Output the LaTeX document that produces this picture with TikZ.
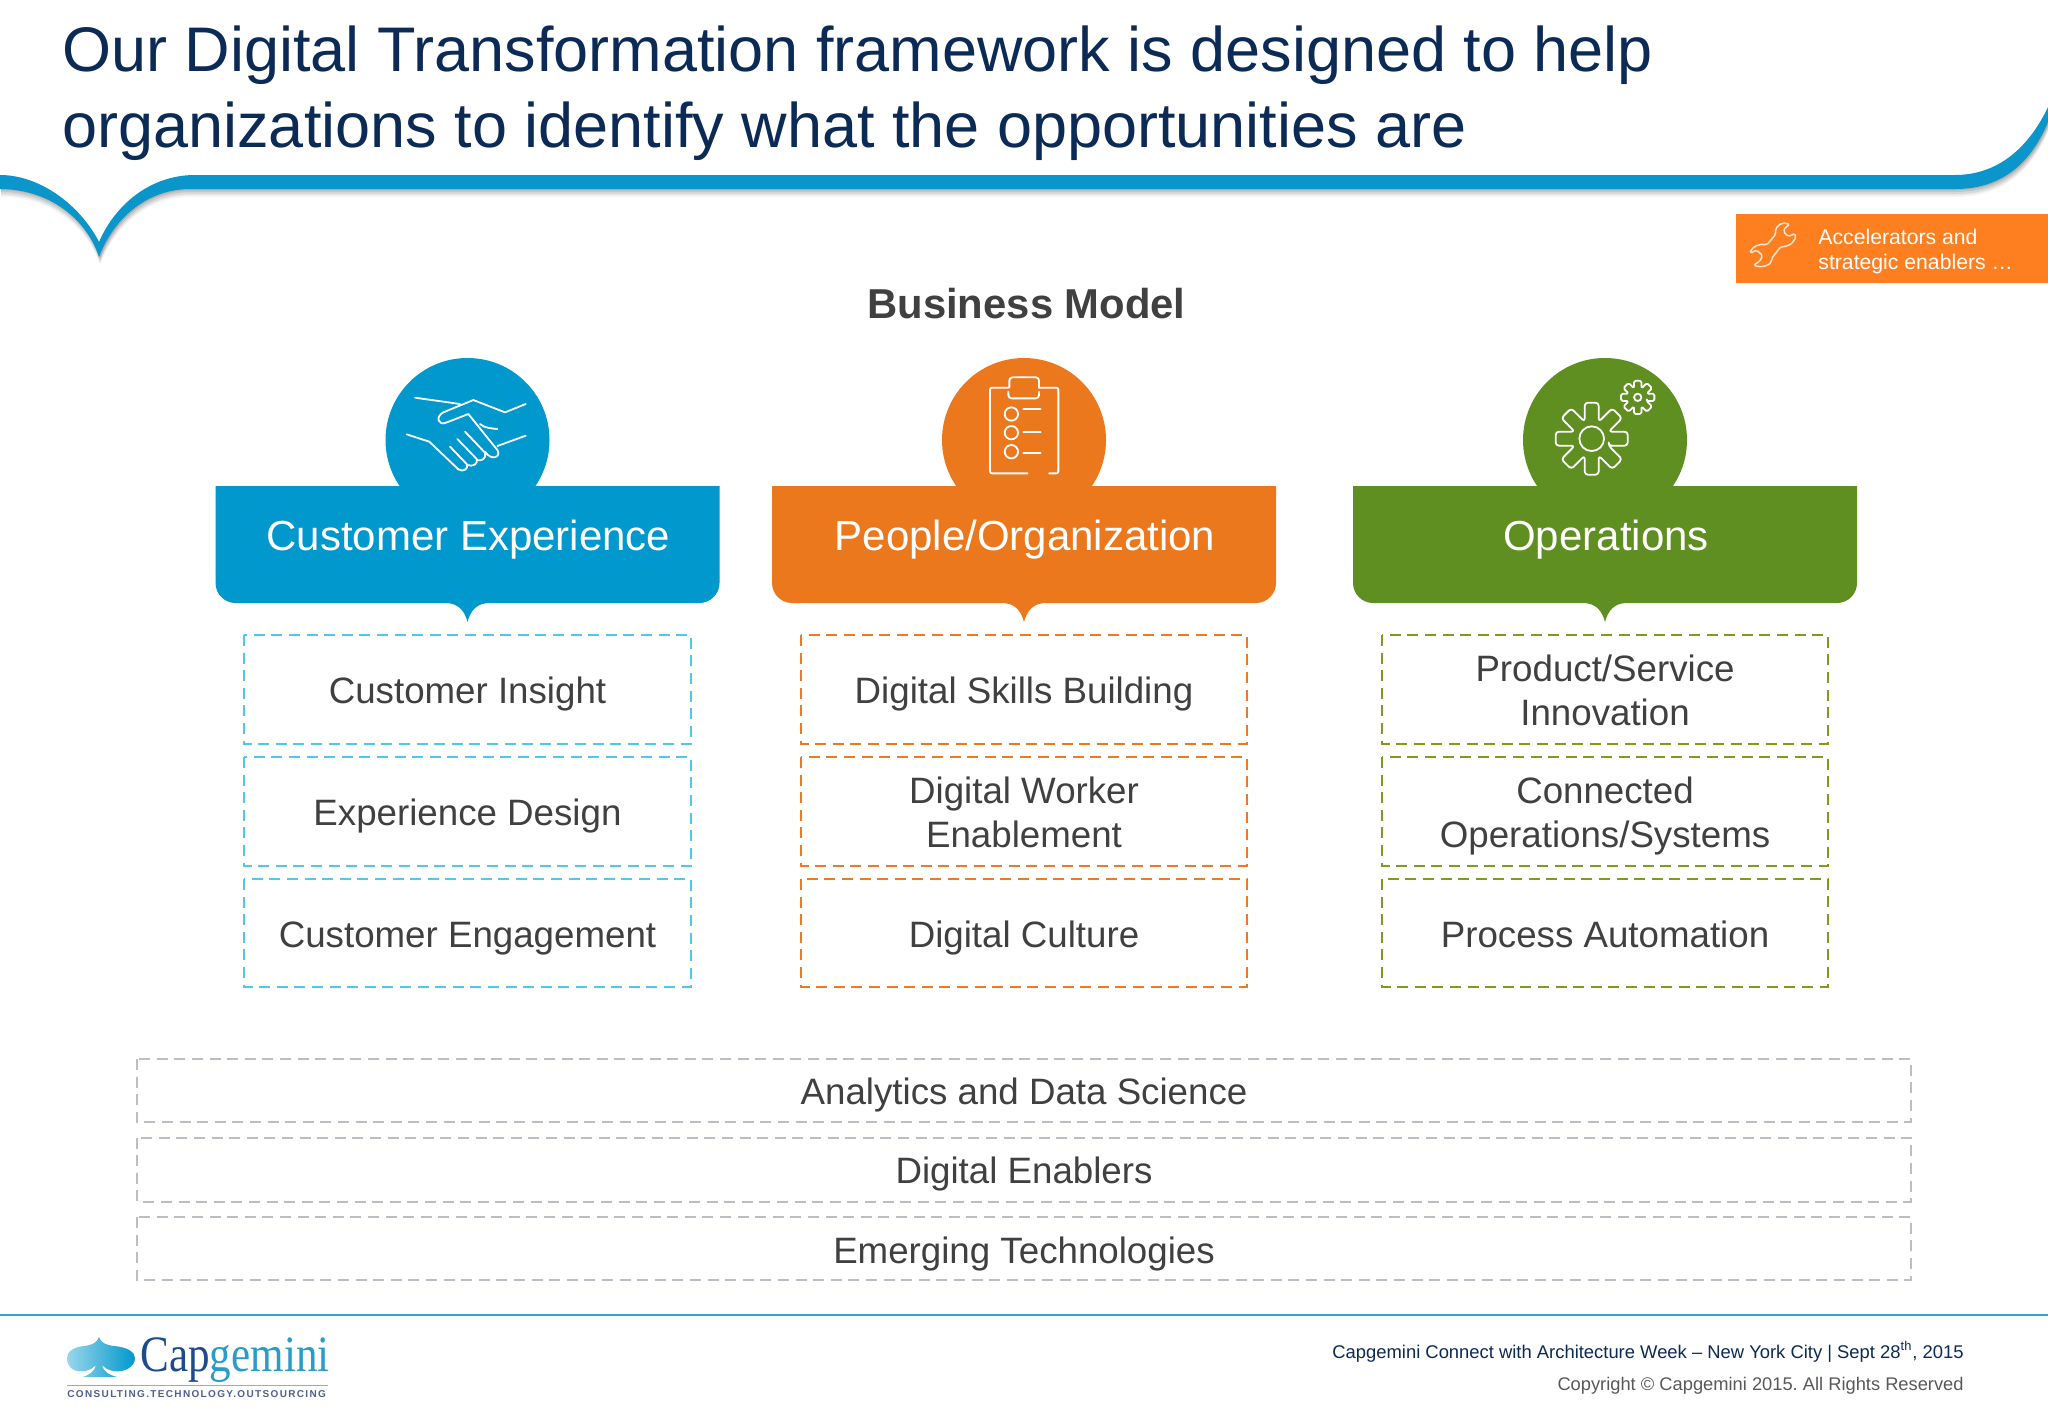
\documentclass[tikz,border=0pt]{standalone}
\usepackage{fontspec}
\usepackage{graphicx}
\setmainfont{Liberation Sans}
\newfontfamily\logoserif{Liberation Serif}
\frenchspacing
\definecolor{navy}{HTML}{0B2A55}
\definecolor{bandblue}{HTML}{0A95CB}
\definecolor{cblue}{HTML}{0098CD}
\definecolor{corange}{HTML}{EC781E}
\definecolor{cgreen}{HTML}{5F8F21}
\definecolor{dblue}{HTML}{4FC8EC}
\definecolor{dorange}{HTML}{EC7A22}
\definecolor{dgreen}{HTML}{7F9B1A}
\definecolor{dgrey}{HTML}{BDBDC5}
\definecolor{txt}{HTML}{404040}
\definecolor{accent}{HTML}{FD7F20}
\definecolor{tagcol}{HTML}{4F5F8F}
\newcommand{\bandpath}{(0,175) .. controls (40,175) and (80,205) .. (99,242) .. controls (115,205) and (150,175) .. (195,175) -- (1955,175) .. controls (2000,175) and (2030,145) .. (2048,107) -- (2048,122) .. controls (2030,165) and (2000,189) .. (1955,189) -- (190,189) .. controls (150,189) and (115,215) .. (99,257) .. controls (85,215) and (45,189) .. (0,189) -- cycle}
\newcommand{\bannerpath}[1]{\fill[#1] (-252,486) -- (252,486) -- (252,583) .. controls (252,594) and (243,603) .. (232,603) -- (22,603) .. controls (10,603) and (3,610) .. (0,622) .. controls (-3,610) and (-10,603) .. (-22,603) -- (-232,603) .. controls (-243,603) and (-252,594) .. (-252,583) -- cycle;
 \fill[#1] (0,440) circle [radius=82];}
\newcommand{\gearpath}[3]{% outer, half width, valley
 ([rotate=-22.5]#3,0) \foreach \a in {0,45,...,315} { -- ([rotate=\a]#1,#2) -- ([rotate=\a]#1,-#2) -- ([rotate=\a+22.5]#3,0) }}
\tikzset{
  x=0.5pt,y=-0.5pt,
  headtext/.style={font=\fontsize{21}{25}\selectfont,text=white,anchor=base,inner sep=0pt},
  itemtext/.style={font=\fontsize{18.35}{22}\selectfont,text=txt,anchor=base,inner sep=0pt},
  itemtwo/.style={font=\fontsize{18.35}{22}\selectfont,text=txt,anchor=center,align=center,inner sep=0pt},
  dashbox/.style={line width=1.1pt,dash pattern=on 5.5pt off 3.3pt},
  icon/.style={white,line width=0.9pt,line cap=round,line join=round},
  footer/.style={anchor=base east,inner sep=0pt},
}
\begin{document}
\begin{tikzpicture}
\useasboundingbox (0,0) rectangle (2048,1418);
\fill[white] (0,0) rectangle (2048,1418);
% title
\node[anchor=base west,inner sep=0pt,text=navy,font=\fontsize{31.5}{38}\selectfont] (title1) at (62,72) {Our Digital Transformation framework is designed to help};
\node[anchor=base west,inner sep=0pt,text=navy,font=\fontsize{31.5}{38}\selectfont] (title2) at (62,148) {organizations to identify what the opportunities are};
% band with shadow
\foreach \d/\o in {8/.03,6.5/.05,5/.07,3/.09,1/.11}{
  \fill[black,opacity=\o,shift={(1,\d)}] \bandpath;
}
\fill[bandblue] \bandpath;
% accelerators
\fill[accent] (1736,214) rectangle (2048,283);
\begin{scope}[shift={(1740,215)},x=0.1667pt,y=-0.1667pt]
\draw[icon,line width=0.75pt,white!80!accent,rounded corners=0.9pt] (150,30) .. controls (130,18) and (105,30) .. (107,58) -- (80,90) .. controls (60,85) and (35,95) .. (30,115) -- (50,105) -- (68,122) -- (58,140) -- (40,150) .. controls (65,160) and (95,150) .. (95,130) -- (122,95) .. controls (150,95) and (170,75) .. (165,55) -- (145,65) -- (130,50) -- (137,35) -- cycle;
\end{scope}
\node[anchor=base west,inner sep=0pt,text=white,font=\fontsize{10.6}{12.5}\selectfont] (acc1) at (1818,244) {Accelerators and};
\node[anchor=base west,inner sep=0pt,text=white,font=\fontsize{10.6}{12.5}\selectfont] (acc2) at (1818,269) {strategic enablers …};
% business model
\node[anchor=base,inner sep=0pt,text=txt,font=\bfseries\fontsize{20.9}{25}\selectfont] (bm) at (1026.5,318) {Business Model};
% banners
\begin{scope}[shift={(467.5,0)}]\bannerpath{cblue}\end{scope}
\begin{scope}[shift={(1024,0)}]\bannerpath{corange}\end{scope}
\begin{scope}[shift={(1605,0)}]\bannerpath{cgreen}\end{scope}
% handshake
\begin{scope}[shift={(360,340)},x=0.1667pt,y=-0.1667pt]
\draw[icon] (165,173) -- (300,192);
\draw[icon] (497,192) -- (435,217) -- (340,180) -- (250,217) .. controls (225,230) and (235,258) .. (258,248) -- (325,222) -- (412,330) .. controls (425,350) and (395,365) .. (375,335);
\draw[icon] (360,252) .. controls (375,265) and (395,265) .. (412,267);
\draw[icon] (412,318) -- (497,287);
\draw[icon] (140,283) -- (208,305) -- (295,388) .. controls (310,398) and (328,385) .. (320,372) -- (270,320);
\draw[icon] (322,375) .. controls (340,382) and (355,370) .. (350,357) -- (292,297);
\draw[icon] (350,360) .. controls (365,365) and (380,355) .. (375,338) -- (315,275);
\end{scope}
% clipboard
\begin{scope}[shift={(920,340)},x=0.1667pt,y=-0.1667pt]
\draw[icon,rounded corners=1pt] (265,143) -- (210,143) -- (210,400) -- (323,400);
\draw[icon,rounded corners=1pt] (387,400) -- (415,400) -- (415,143) -- (357,143);
\draw[icon,rounded corners=1.6pt] (268,143) -- (268,112) -- (357,112) -- (357,143);
\draw[icon,rounded corners=1.6pt] (265,155) -- (265,175) -- (357,175) -- (357,155);
\draw[icon] (274,222) circle [radius=20];
\draw[icon] (274,278) circle [radius=20];
\draw[icon] (274,335) circle [radius=20];
\draw[icon] (310,207) -- (362,207);
\draw[icon] (310,277) -- (362,277);
\draw[icon] (310,340) -- (362,340);
\end{scope}
% gears
\begin{scope}[shift={(1500,340)},x=0.1667pt,y=-0.1667pt]
\begin{scope}[shift={(275,296)}]
\draw[icon,rounded corners=1.6pt] \gearpath{108}{21}{55} -- cycle;
\draw[icon] (0,0) circle [radius=37];
\end{scope}
\begin{scope}[shift={(413,172)}]
\draw[icon,rounded corners=0.8pt] \gearpath{50}{11}{29} -- cycle;
\draw[icon] (0,0) circle [radius=11];
\end{scope}
\end{scope}
% banner labels
\node[headtext] (h1) at (468.5,550) {Customer Experience};
\node[headtext] (h2) at (1025,550) {People/Organization};
\node[headtext] (h3) at (1606,550) {Operations};
% boxes
\foreach \y/\b in {635/744,757/866,879/987}{
  \draw[dashbox,dblue] (244,\y) rectangle (691,\b);
  \draw[dashbox,dorange] (801,\y) rectangle (1247,\b);
  \draw[dashbox,dgreen] (1382,\y) rectangle (1828,\b);
}
\node[itemtext] (a1) at (467.5,703) {Customer Insight};
\node[itemtext] (a2) at (467.5,825) {Experience Design};
\node[itemtext] (a3) at (467.5,947) {Customer Engagement};
\node[itemtext] (b1) at (1024,703) {Digital Skills Building};
\node[itemtwo] (b2) at (1024,812) {Digital Worker\\Enablement};
\node[itemtext] (b3) at (1024,947) {Digital Culture};
\node[itemtwo] (c1) at (1605,690) {Product/Service\\Innovation};
\node[itemtwo] (c2) at (1605,816) {Connected\\Operations/Systems};
\node[itemtext] (c3) at (1605,947) {Process Automation};
% wide boxes
\foreach \y/\b in {1059/1122,1137.5/1201.5,1217/1280}{
  \draw[dashbox,line width=1pt,dgrey] (137,\y) rectangle (1911,\b);
}
\node[itemtext] (w1) at (1024,1104) {Analytics and Data Science};
\node[itemtext] (w2) at (1024,1183.5) {Digital Enablers};
\node[itemtext] (w3) at (1024,1263) {Emerging Technologies};
% footer
\draw[line width=1pt,color=bandblue!85!white] (0,1315) -- (2048,1315);
\shade[left color=cblue!40!white,right color=cblue] (99,1337) .. controls (101,1343) and (106,1345) .. (114,1346) .. controls (127,1347) and (135,1352) .. (135,1358) .. controls (135,1367) and (124,1373) .. (113,1371) .. controls (108,1370) and (105,1368) .. (102,1365) .. controls (103,1371) and (109,1375) .. (117,1377) -- (83,1377) .. controls (89,1375) and (95,1371) .. (96,1365) .. controls (93,1368) and (90,1370) .. (85,1371) .. controls (74,1373) and (67,1367) .. (67,1358) .. controls (67,1352) and (73,1347) .. (84,1346) .. controls (92,1345) and (97,1343) .. (99,1337) -- cycle;
\node[anchor=base west,inner sep=0pt,font=\logoserif\fontsize{25.5}{27}\selectfont] (logo) at (140,1371) {\scalebox{0.845}[1]{\textcolor[HTML]{1F4A8C}{Cap}\textcolor[HTML]{2A9CC8}{gemini}}};
\draw[line width=0.5pt,color=dblue] (67,1385) -- (328,1385);
\node[anchor=base west,inner sep=0pt,text=tagcol,font=\bfseries\fontsize{5}{6}\selectfont\addfontfeature{LetterSpace=13.5}] (tag) at (67,1397) {CONSULTING.TECHNOLOGY.OUTSOURCING};
\node[footer,text=navy,font=\fontsize{9.2}{11}\selectfont] (f1) at (1964,1358) {Capgemini Connect with Architecture Week – New York City | Sept 28\textsuperscript{th}, 2015};
\node[footer,text=black!65,font=\fontsize{9.15}{11}\selectfont] (f2) at (1964,1390) {Copyright © Capgemini 2015. All Rights Reserved};
\end{tikzpicture}
\end{document}
